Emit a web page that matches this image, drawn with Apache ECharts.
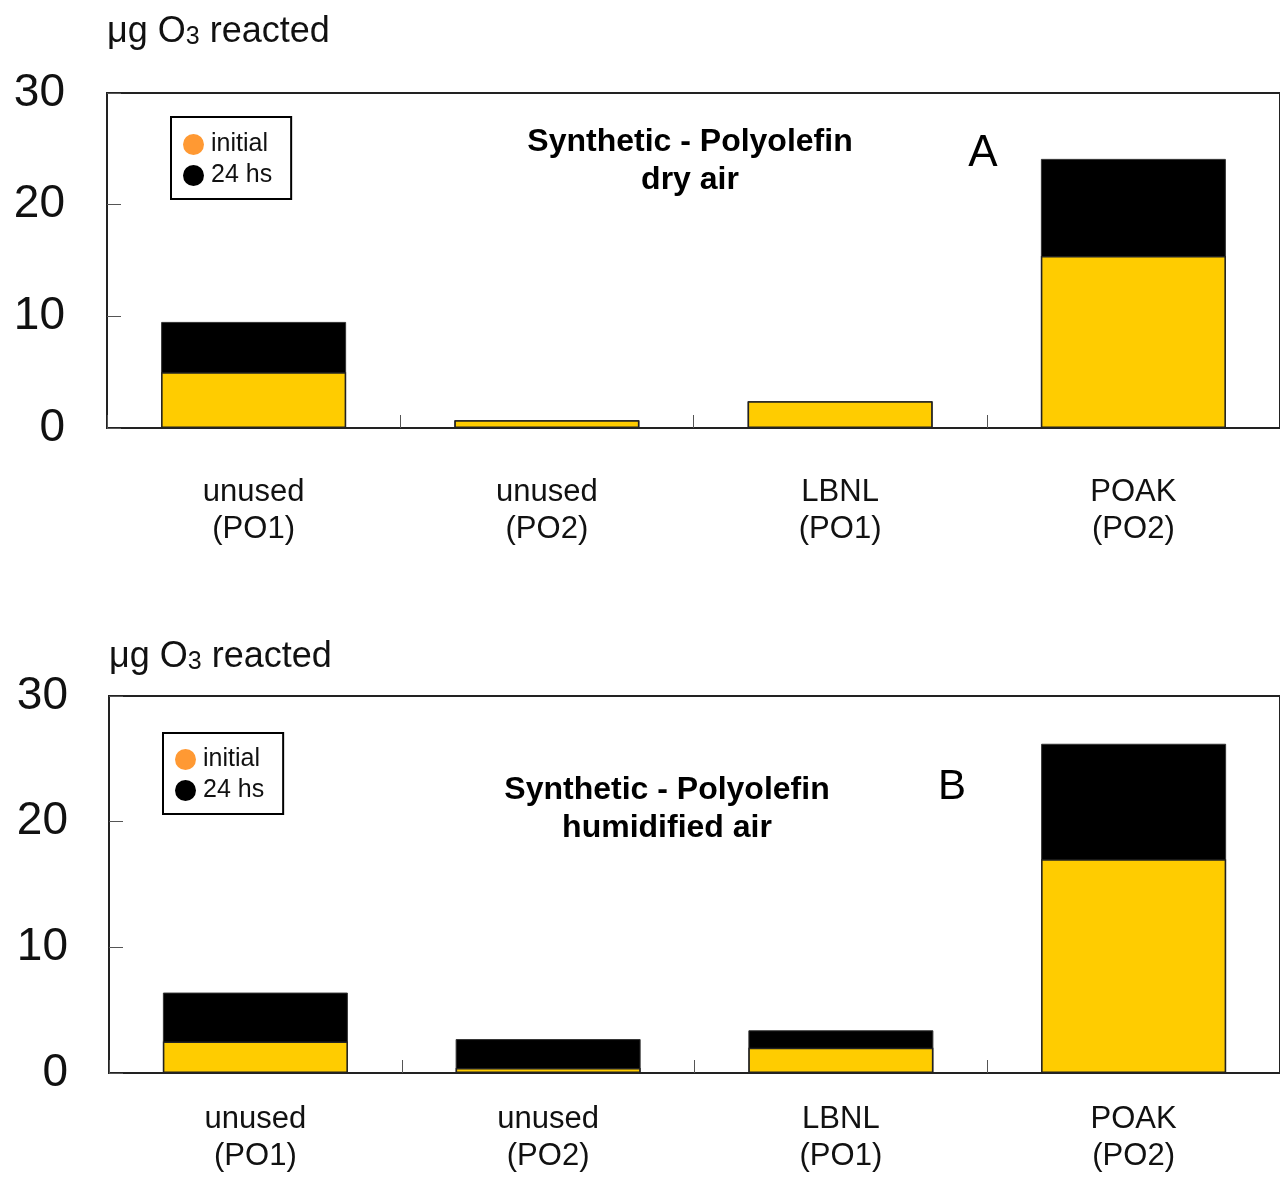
<!DOCTYPE html>
<html>
<head>
<meta charset="utf-8">
<style>
  html, body { margin: 0; padding: 0; background: #fff; }
  #chart { width: 1280px; height: 1177px; }
</style>
<script src="https://cdn.jsdelivr.net/npm/echarts@6/dist/echarts.min.js"></script>
</head>
<body>
<div id="chart"></div>
<script>
// ---------- data ----------
const categories = ['unused\n(PO1)', 'unused\n(PO2)', 'LBNL\n(PO1)', 'POAK\n(PO2)'];
const yTicks = [0, 10, 20, 30];

// Panel A: dry air (µg O3 reacted)
const dryInitial = [5.0, 0.7, 2.4, 15.4];
const dry24h     = [9.5, 0.7, 2.4, 24.1];

// Panel B: humidified air
const humInitial = [2.5, 0.4, 2.0, 17.0];
const hum24h     = [6.4, 2.7, 3.4, 26.2];

const panelTitles = ['Synthetic - Polyolefin\ndry air', 'Synthetic - Polyolefin\nhumidified air'];
const panelLetters = ['A', 'B'];
const seriesNames = ['initial', '24 hs'];

// ---------- styling ----------
const FONT = '"Liberation Sans", Arial, Helvetica, sans-serif';
const YELLOW = '#FFCC00';
const ORANGE = '#FF9933';
const BLACK = '#000000';

const chart = echarts.init(document.getElementById('chart'), null, { renderer: 'canvas' });

const grids = [
  { left: 107, top: 93, width: 1180, height: 335 },
  { left: 109, top: 696, width: 1181, height: 377 }
];

function makeXAxis(i, margin) {
  return {
    type: 'category', gridIndex: i, data: categories,
    axisLine: { show: true, lineStyle: { color: '#222', width: 2 } },
    axisTick: { show: true, inside: true, length: 13, lineStyle: { color: '#555', width: 1 } },
    axisLabel: { interval: 0, margin: margin, fontFamily: FONT, fontSize: 31, lineHeight: 37, color: '#111' },
    splitLine: { show: false }
  };
}
function makeYAxis(i, margin, nameGap) {
  return {
    type: 'value', gridIndex: i, min: yTicks[0], max: yTicks[yTicks.length - 1], interval: 10,
    name: '{a|\u03bcg O}{s|3}{a| reacted}',
    nameLocation: 'end', nameGap: nameGap,
    nameTextStyle: {
      align: 'left', verticalAlign: 'middle', color: '#111', fontFamily: FONT,
      rich: {
        a: { fontSize: 36, fontFamily: FONT, color: '#111', lineHeight: 40, verticalAlign: 'bottom' },
        s: { fontSize: 25, fontFamily: FONT, color: '#111', lineHeight: 33, verticalAlign: 'bottom' }
      }
    },
    axisLine: { show: true, lineStyle: { color: '#222', width: 2 } },
    axisTick: { show: true, inside: true, length: 14, lineStyle: { color: '#555', width: 1 } },
    axisLabel: { margin: margin, fontFamily: FONT, fontSize: 46, color: '#111' },
    splitLine: { show: false }
  };
}
function makeLegend(left, top, padTop) {
  return {
    left: left, top: top, orient: 'vertical', icon: 'circle',
    itemWidth: 21, itemHeight: 21, itemGap: 6,
    padding: [padTop, 19, 11, 12],
    borderColor: '#000', borderWidth: 2, backgroundColor: '#fff',
    selectedMode: false,
    textStyle: { fontFamily: FONT, fontSize: 25, color: '#111', lineHeight: 21, padding: [0, 0, 0, 2] },
    data: [
      { name: seriesNames[0], itemStyle: { color: ORANGE, borderWidth: 0 } },
      { name: seriesNames[1], itemStyle: { color: BLACK, borderWidth: 0 } }
    ]
  };
}
function barPair(i, initial, total) {
  return [
    {
      name: seriesNames[1], type: 'bar', xAxisIndex: i, yAxisIndex: i,
      data: total, barWidth: 185,
      itemStyle: { color: BLACK, borderColor: '#333', borderWidth: 1 }
    },
    {
      name: seriesNames[0], type: 'bar', xAxisIndex: i, yAxisIndex: i,
      data: initial, barWidth: 185, barGap: '-100%',
      itemStyle: { color: YELLOW, borderColor: '#222', borderWidth: 1.5 }
    }
  ];
}

const option = {
  backgroundColor: '#fff',
  animation: false,
  textStyle: { fontFamily: FONT },
  grid: grids.map(g => Object.assign({ show: true, borderColor: '#222', borderWidth: 2, backgroundColor: 'transparent', containLabel: false }, g)),
  title: [
    { text: panelTitles[0], left: 690, top: 123, textAlign: 'center', padding: 0,
      textStyle: { fontFamily: FONT, fontSize: 32, fontWeight: 'bold', lineHeight: 38, color: '#000' } },
    { text: panelTitles[1], left: 667, top: 771, textAlign: 'center', padding: 0,
      textStyle: { fontFamily: FONT, fontSize: 32, fontWeight: 'bold', lineHeight: 38, color: '#000' } },
    { text: panelLetters[0], left: 983, top: 132, textAlign: 'center', padding: 0,
      textStyle: { fontFamily: FONT, fontSize: 44, fontWeight: 'normal', lineHeight: 44, color: '#000' } },
    { text: panelLetters[1], left: 952, top: 766, textAlign: 'center', padding: 0,
      textStyle: { fontFamily: FONT, fontSize: 42, fontWeight: 'normal', lineHeight: 42, color: '#000' } }
  ],
  legend: [ makeLegend(171, 117, 15), makeLegend(163, 733, 14) ],
  xAxis: [ makeXAxis(0, 46), makeXAxis(1, 28) ],
  yAxis: [ makeYAxis(0, 42, 63), makeYAxis(1, 41, 41) ],
  series: [].concat(barPair(0, dryInitial, dry24h), barPair(1, humInitial, hum24h))
};
chart.setOption(option);
</script>
</body>
</html>
